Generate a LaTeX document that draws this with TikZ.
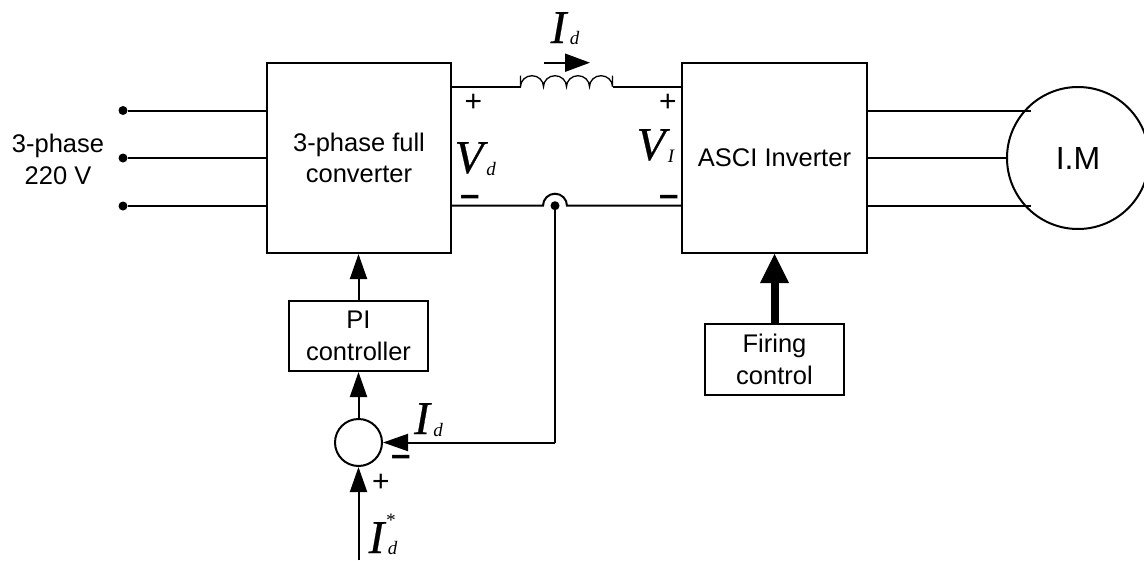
\documentclass[tikz,border=0pt]{standalone}
\usepackage{fontspec}
\setmainfont{Liberation Sans}
\newfontfamily\serifit{Liberation Serif}
\newfontfamily\serifheavy[FakeBold=0.5]{Liberation Serif Italic}
\usetikzlibrary{arrows.meta}
\newcommand{\symbig}[1]{{\serifheavy\fontsize{47}{47}\selectfont #1}}
\newcommand{\symsub}[1]{{\serifit\itshape\fontsize{19}{19}\selectfont #1}}
\tikzset{
  wire/.style={line width=2pt,black},
  blockbox/.style={draw=black,line width=2pt,inner sep=0pt,align=center,
    font=\fontsize{25.5}{31.5}\selectfont},
  ringnode/.style={circle,draw=black,line width=2pt,inner sep=0pt},
  terminal/.style={circle,fill=black,inner sep=0pt,minimum size=9pt},
  blockarrow/.style={wire,-{Triangle[length=25pt,width=17pt]}},
  capt/.style={inner sep=0pt,anchor=base,font=\fontsize{25.5}{31.5}\selectfont,align=center},
  mathbig/.style={inner sep=0pt,anchor=base},
  signtext/.style={inner sep=0pt,font=\fontsize{30}{30}\selectfont},
  minustext/.style={inner sep=0pt,font=\fontsize{35}{35}\selectfont\bfseries}
}
\begin{document}
\begin{tikzpicture}[x=1pt,y=-1pt]
\useasboundingbox (0,0) rectangle (1144,560);
% blocks
\node[blockbox,minimum width=184pt,minimum height=190pt] (conv) at (359,158) {3-phase full\\converter};
\node[blockbox,minimum width=185pt,minimum height=190pt] (inv) at (774.5,158) {ASCI Inverter};
\node[blockbox,minimum width=139pt,minimum height=70pt] (pi) at (358.5,336) {PI\\controller};
\node[blockbox,minimum width=139pt,minimum height=71pt] (fire) at (774.5,359.5) {Firing\\control};
\node[ringnode,minimum size=142pt,font=\fontsize{32}{32}\selectfont] (im) at (1078,158) {I.M};
\node[ringnode,minimum size=47pt] (sum) at (358.5,442.5) {};
% three-phase supply
\node[terminal] (a1) at (123,110.5) {};
\node[terminal] (a2) at (123,158) {};
\node[terminal] (a3) at (123,206) {};
\draw[wire] (a1) -- (a1 -| conv.west);
\draw[wire] (a2) -- (a2 -| conv.west);
\draw[wire] (a3) -- (a3 -| conv.west);
\node[capt] (lab3ph) at (58,152) {3-phase};
\node[capt] (lab220) at (58,184) {220 V};
% motor feed
\coordinate (m1) at (1031,110.5);
\coordinate (m3) at (1031,206);
\draw[wire] (m1 -| inv.east) -- (m1);
\draw[wire] (inv.east) -- (im.west);
\draw[wire] (m3 -| inv.east) -- (m3);
% dc link top with inductor
\coordinate (L1) at (520.5,86.7);
\coordinate (L2) at (612.5,86.7);
\draw[wire] (L1 -| conv.east) -- (L1);
\draw[wire] (L2) -- (L2 -| inv.west);
\draw[line width=1.3pt] (L1) -- ++(0,-11)
  (L1) arc[start angle=180,end angle=0,x radius=11.5pt,y radius=11pt]
  arc[start angle=180,end angle=0,x radius=11.5pt,y radius=11pt]
  arc[start angle=180,end angle=0,x radius=11.5pt,y radius=11pt]
  arc[start angle=180,end angle=0,x radius=11.5pt,y radius=11pt]
  (L2) -- ++(0,-11);
% dc link bottom with hop
\coordinate (H1) at (543,205.7);
\coordinate (H2) at (567,205.7);
\draw[wire] (H1 -| conv.east) -- (H1) arc[start angle=180,end angle=0,radius=12pt] -- (H2 -| inv.west);
% current feedback
\node[terminal] (tap) at (555,205.7) {};
\coordinate (fbk) at (555,442.5);
\draw[wire] (tap) -- (fbk);
\draw[blockarrow] (fbk) -- (sum.east);
% forward path
\draw[blockarrow] (sum.north) -- (pi.south);
\draw[blockarrow] (pi.north) -- (conv.south -| pi.north);
\coordinate (ref) at (358.5,560);
\draw[blockarrow] (ref) -- (sum.south);
\coordinate (firetip) at (774.5,254);
\draw[line width=8pt,black] (fire.north) -- (774.5,282);
\fill[black] (firetip) -- (789,283) -- (760,283) -- cycle;
% current arrow over inductor
\coordinate (ia0) at (544,62.7);
\coordinate (ia1) at (590,62.7);
\draw[line width=2pt,-{Triangle[length=25pt,width=18pt]}] (ia0) -- (ia1);
% symbols
\node[mathbig] (s1) at (558.5,43) {\symbig{I}};
\node[mathbig] (s1d) at (574.5,44) {\symsub{d}};
\node[mathbig] (s2) at (469,173) {\symbig{V}};
\node[mathbig] (s2d) at (491,175) {\symsub{d}};
\node[mathbig] (s3) at (651,160) {\symbig{V}};
\node[mathbig] (s3i) at (671,162) {\symsub{I}};
\node[mathbig] (s4) at (422,434) {\symbig{I}};
\node[mathbig] (s4d) at (438,436) {\symsub{d}};
\node[mathbig] (s5) at (376.5,553) {\symbig{I}};
\node[mathbig] (s5d) at (392.5,554) {\symsub{d}};
\node[mathbig] (s5s) at (390,526) {\symsub{*}};
% signs
\node[signtext] (p1) at (473.5,103) {+};
\node[signtext] (p2) at (668,103) {+};
\node[signtext] (p3) at (381,483) {+};
\node[minustext] (n1) at (470,201) {–};
\node[minustext] (n2) at (669.5,201) {–};
\node[minustext] (n3) at (401,461) {–};
\end{tikzpicture}
\end{document}
